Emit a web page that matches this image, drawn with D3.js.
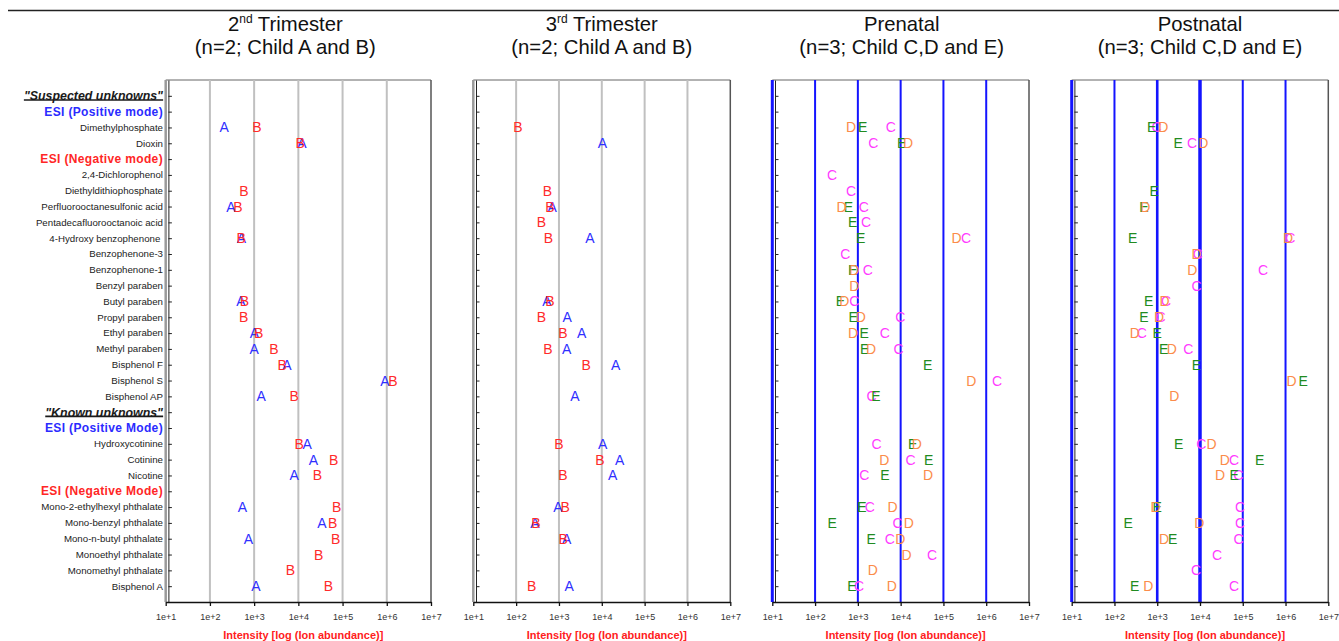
<!DOCTYPE html>
<html><head><meta charset="utf-8">
<script src="https://cdn.jsdelivr.net/npm/d3@7"></script>
<style>body{margin:0;background:#fff}svg{display:block;font-family:"Liberation Sans",Arial,sans-serif}</style>
</head><body><svg id="chart" width="1339" height="641"></svg>
<script>
const _ = null;
// Row labels (top to bottom) and their kind
const rowLabels = ['"Suspected unknowns"','ESI (Positive mode)','Dimethylphosphate','Dioxin','ESI (Negative mode)',
 '2,4-Dichlorophenol','Diethyldithiophosphate','Perfluorooctanesulfonic acid','Pentadecafluorooctanoic acid',
 '4-Hydroxy benzophenone\u00a0','Benzophenone-3','Benzophenone-1','Benzyl paraben','Butyl paraben','Propyl paraben',
 'Ethyl paraben','Methyl paraben','Bisphenol F','Bisphenol S','Bisphenol AP','"Known unknowns"','ESI (Positive Mode)',
 'Hydroxycotinine','Cotinine','Nicotine','ESI (Negative Mode)','Mono-2-ethylhexyl phthalate','Mono-benzyl phthalate',
 'Mono-n-butyl phthalate','Monoethyl phthalate','Monomethyl phthalate','Bisphenol A'];
const rowKinds = ['head','pos','item','item','neg','item','item','item','item','item','item','item','item','item','item',
 'item','item','item','item','item','head','pos','item','item','item','neg','item','item','item','item','item','item'];
const tickValues = [1e1,1e2,1e3,1e4,1e5,1e6,1e7];
const tickLabels = ['1e+1','1e+2','1e+3','1e+4','1e+5','1e+6','1e+7'];
const axisTitle = 'Intensity [log (Ion abundance)]';

// Ion abundance per row (null = not detected / header row)
const trim2A = [_,_,210,12000,_,_,_,300,_,515,_,_,_,500,_,1020,1000,5500,910000,1440,_,_,15800,22000,8000,_,540,34000,740,_,_,1100];
const trim2B = [_,_,1150,11000,_,_,590,430,_,510,_,_,_,600,580,1260,2800,4300,1370000,8000,_,_,10500,63000,27000,_,74000,60000,70000,29000,6600,48000];
const trim3A = [_,_,_,10300,_,_,_,690,_,5300,_,_,_,520,1550,3400,1520,21000,_,2360,_,_,10500,26000,18000,_,950,275,1520,_,_,1740];
const trim3B = [_,_,110,_,_,_,540,615,390,565,_,_,_,615,390,1230,550,4300,_,_,_,_,1000,9100,1230,_,1400,288,1260,_,_,230];
const preC = [_,_,5900,2300,_,250,690,1370,1560,340000,510,1700,_,830,9800,4250,8900,_,1800000,2100,_,_,2740,17000,1410,_,1900,8500,5600,54000,_,1070];
const preD = [_,_,690,15000,_,_,_,415,_,204000,_,810,830,480,1170,770,2040,_,450000,_,_,_,24000,4160,44000,_,6500,15500,9800,13800,2250,6200];
const preE = [_,_,1290,10500,_,_,_,600,760,1170,_,760,_,390,780,1410,1440,43000,_,2640,_,_,19000,45000,4300,_,1250,252,2040,_,_,730];
const postC = [_,_,970,6500,_,_,_,_,_,1300000,8900,300000,8300,1610,1200,437,5340,_,_,_,_,_,10700,63000,79000,_,87000,87000,80000,25000,8100,63000];
const postD = [_,_,1380,12000,_,_,_,525,_,1150000,8300,6600,_,1490,1100,300,2190,_,1380000,2500,_,_,18700,38000,29500,_,910,9600,1440,_,_,620];
const postE = [_,_,740,3100,_,_,850,490,_,268,_,_,_,630,490,1000,1410,8300,2600000,_,_,_,3170,250000,63000,_,1000,210,2300,_,_,295];

const colors = {A:'#2f2fff', B:'#ff2a2a', C:'#ff3cff', D:'#fb8c4a', E:'#218b21'};

const panels = [
 {t1:['2','nd',' Trimester'], t2:'(n=2; Child A and B)', x0:165.7, x1:431, style:'gray', tdx:-13,
  series:[['A',trim2A],['B',trim2B]]},
 {t1:['3','rd',' Trimester'], t2:'(n=2; Child A and B)', x0:473.3, x1:730.3, style:'gray', tdx:0,
  series:[['A',trim3A],['B',trim3B]]},
 {t1:['Prenatal'], t2:'(n=3; Child C,D and E)', x0:772.3, x1:1029, style:'blue', heavy:[], tdx:1,
  series:[['C',preC],['E',preE],['D',preD]]},
 {t1:['Postnatal'], t2:'(n=3; Child C,D and E)', x0:1071.7, x1:1328.3, style:'blue', heavy:[1e3,1e4], tdx:0,
  series:[['C',postC],['E',postE],['D',postD]]}
];

const svg = d3.select('#chart');
const plotTop = 80, plotBottom = 602;
const y = d3.scaleLinear().domain([0, rowLabels.length + 1]).range([plotTop, plotBottom]);

svg.append('line').attr('x1',8).attr('x2',1339).attr('y1',10.5).attr('y2',10.5)
  .attr('stroke','#222').attr('stroke-width',1.3);

// Row labels
const lab = svg.append('g');
rowLabels.forEach((t,i) => {
  const k = rowKinds[i];
  const el = lab.append('text').attr('x',163).attr('y',y(i+1)).attr('dy','0.35em')
    .attr('text-anchor','end').text(t);
  if (k === 'item') el.attr('font-size',9.7).attr('fill','#222');
  else if (k === 'pos') el.attr('font-size',12).attr('font-weight','bold').attr('letter-spacing',0.35).attr('fill','#2b2bff');
  else if (k === 'neg') el.attr('font-size',12).attr('font-weight','bold').attr('letter-spacing',0.35).attr('fill','#ff2626');
  else {
    el.attr('font-size',12.4).attr('font-weight','bold').attr('font-style','italic').attr('fill','#1a1a1a');
    const bb = el.node().getBBox();
    lab.append('line').attr('x1',bb.x).attr('x2',bb.x+bb.width).attr('y1',y(i+1)+4.2).attr('y2',y(i+1)+4.2)
      .attr('stroke','#1a1a1a').attr('stroke-width',1.6);
  }
});

panels.forEach(p => {
  const g = svg.append('g');
  const x = d3.scaleLog().domain([1e1,1e7]).range([p.x0, p.x1]);
  const cx = (p.x0 + p.x1) / 2;
  // Title
  const t1 = g.append('text').attr('x',cx+p.tdx).attr('y',31).attr('text-anchor','middle').attr('font-size',20.3).attr('fill','#111');
  if (p.t1.length === 3) {
    t1.append('tspan').text(p.t1[0]);
    t1.append('tspan').attr('font-size',12).attr('dy',-8).text(p.t1[1]);
    t1.append('tspan').attr('dy',8).text(p.t1[2]);
  } else t1.text(p.t1[0]);
  g.append('text').attr('x',cx+p.tdx).attr('y',54).attr('text-anchor','middle').attr('font-size',20.3).attr('fill','#111').text(p.t2);

  // top border
  g.append('line').attr('x1',p.x0).attr('x2',p.x1).attr('y1',plotTop).attr('y2',plotTop).attr('stroke','#666').attr('stroke-width',1);
  // grid lines
  tickValues.forEach((v,i) => {
    const xv = x(v);
    let stroke, w;
    if (i === tickValues.length-1) { stroke = '#555'; w = 1.5; }
    else if (p.style === 'gray') { stroke = i === 0 ? '#9a9a9a' : '#c0c0c0'; w = i === 0 ? 2.5 : 2; }
    else { stroke = '#1414ff'; w = i === 0 ? 3 : (p.heavy.includes(v) ? (v === 1e4 ? 3.5 : 2.6) : 2); }
    g.append('line').attr('x1',xv).attr('x2',xv).attr('y1',plotTop).attr('y2',plotBottom).attr('stroke',stroke).attr('stroke-width',w);
  });
  // y axis (ticks pointing inward)
  const ya = d3.axisRight(y).tickValues(d3.range(1, rowLabels.length+1)).tickSize(3.5).tickSizeOuter(0).tickFormat('');
  g.append('g').attr('transform',`translate(${p.x0+2.7},0)`).call(ya)
    .call(s => s.selectAll('path,line').attr('stroke','#222'));
  // x axis
  const xa = d3.axisBottom(x).tickValues(tickValues).tickFormat((d,i) => tickLabels[i]).tickSize(4).tickSizeOuter(0).tickPadding(8);
  g.append('g').attr('transform',`translate(0,${plotBottom})`).call(xa)
    .call(s => { s.selectAll('path,line').attr('stroke','#111').attr('stroke-width',1.3);
                 s.selectAll('text').attr('font-size',9).attr('fill','#333').attr('font-family','"Liberation Sans",Arial,sans-serif'); });
  g.append('text').attr('x',cx+5).attr('y',639).attr('text-anchor','middle').attr('font-size',11)
    .attr('font-weight','bold').attr('fill','#ff2020').text(axisTitle);

  // letter markers
  p.series.forEach(([letter, vals]) => {
    g.append('g').selectAll('text').data(vals.map((v,i)=>({v,i})).filter(d => d.v !== null))
      .join('text').attr('x',d => x(d.v)).attr('y',d => y(d.i+1)).attr('dy','0.36em')
      .attr('text-anchor','middle').attr('font-size',14).attr('fill',colors[letter]).text(letter);
  });
});
</script></body></html>
